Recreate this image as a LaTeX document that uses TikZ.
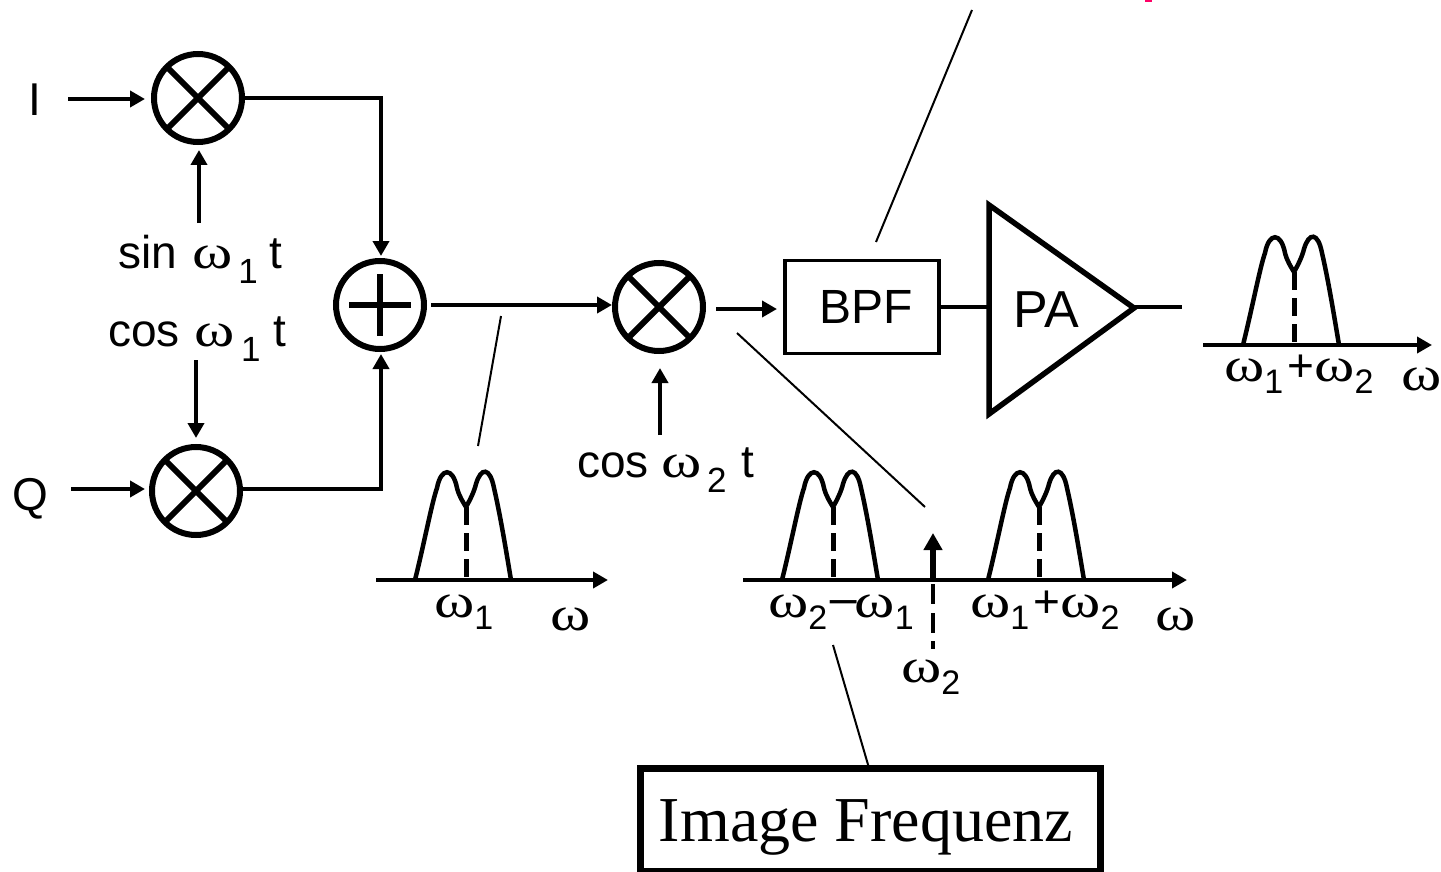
\documentclass[tikz,border=0pt]{standalone}
\usepackage{fontspec}
\usepackage{graphicx}
\setmainfont{Liberation Sans}
\newfontfamily\serifface{Liberation Serif}
\usetikzlibrary{arrows.meta}
\newcommand{\om}{\scalebox{1.33}[1.05]{\serifface ω}}
\newcommand{\subs}[1]{\raisebox{-15pt}{\fontsize{35}{35}\selectfont #1}}
\newcommand{\fsub}[1]{\raisebox{-12pt}{\fontsize{34}{34}\selectfont #1}}
\newcommand{\hs}[1]{\hspace{#1pt}}
\newcommand{\spectrum}[4]{% dx, dy, name, unused
  \begin{scope}[shift={(#1,#2)}]
    \draw[spec] (0,0) .. controls (9,-36) and (17,-78) .. (22,-92)
      .. controls (26,-113) and (38,-113) .. (42,-92)
      .. controls (44,-84) and (48,-78) .. (51,-73)
      .. controls (55,-80) and (59,-88) .. (61,-96)
      .. controls (66,-113) and (75,-113) .. (79,-92)
      .. controls (85,-66) and (90,-36) .. (96,0);
    \draw[specdash] (51,-73) -- (51,0);
  \end{scope}}
\tikzset{
  x=1pt,y=-1pt,
  wire/.style={line width=4.5pt,draw=black},
  awire/.style={wire,-{Triangle[length=15pt,width=16pt]}},
  thin leader/.style={line width=2pt,draw=black},
  spec/.style={line width=4.5pt,draw=black,line cap=butt},
  specdash/.style={line width=5pt,draw=black,dash pattern=on 18pt off 8pt},
  lab/.style={inner sep=0pt,anchor=base west,font=\fontsize{46}{46}\selectfont},
  mixer/.style={circle,draw=black,line width=6pt,minimum size=88pt,inner sep=0pt,
    path picture={
      \draw[line width=6pt] (path picture bounding box.north west) -- (path picture bounding box.south east);
      \draw[line width=6pt] (path picture bounding box.north east) -- (path picture bounding box.south west);}},
  adder/.style={circle,draw=black,line width=6pt,minimum size=88pt,inner sep=0pt},
}
\begin{document}
\begin{tikzpicture}
\useasboundingbox (0,0) rectangle (1441,872);
\fill[white] (0,0) rectangle (1441,872);
\fill[fill={rgb,255:red,255;green,0;blue,102}] (1145,0) rectangle (1152,2);

\node[mixer] (m1) at (198,98) {};
\node[mixer] (m2) at (196,491) {};
\node[adder] (sum) at (380,305) {};
\draw[line width=6pt] (349,305) -- (411,305) (380,274) -- (380,336);
\node[mixer] (m3) at (659,307) {};

\node[draw=black,line width=3.5pt,minimum width=154pt,minimum height=93pt,inner sep=0pt,font=\fontsize{48}{48}\selectfont] (bpf) at (862,307) {\hspace{8pt}BPF};
\coordinate (pa1) at (989,205);
\coordinate (pa2) at (1134,308);
\coordinate (pa3) at (989,414);
\draw[line width=5.5pt,line join=miter] (pa1) -- (pa2) -- (pa3) -- cycle;
\node[inner sep=0pt,font=\fontsize{52}{52}\selectfont] (pa) at (1046,310) {PA};

\node[lab,anchor=base] (ilab) at (35,116) {I};
\node[lab,anchor=base] (qlab) at (30,510) {Q};
\node[lab] (sin) at (118,268) {sin\hs{15}\om\hs{6}\subs{1}\hs{12}t};
\node[lab] (cos) at (108,346) {cos\hs{15}\om\hs{6}\subs{1}\hs{13}t};
\node[lab] (cos2) at (577,477) {cos\hs{13}\om\hs{5}\subs{2}\hs{15}t};

\coordinate (iin) at (68,99);
\coordinate (qin) at (71,489);
\coordinate (sinst) at (199,223);
\coordinate (sinend) at (199,150);
\coordinate (cosst) at (196,360);
\coordinate (cosend) at (196,438);
\coordinate (c1) at (381,98);
\coordinate (c2) at (381,489);
\coordinate (o3) at (716,309);
\coordinate (i3) at (777,309);
\coordinate (i1) at (145,99);
\coordinate (i2) at (145,489);
\coordinate (s1) at (381,256);
\coordinate (s2) at (381,354);
\coordinate (o0) at (431,305);
\coordinate (i0) at (612,305);
\coordinate (m1o) at (244,98);
\coordinate (m2o) at (243,489);
\coordinate (c3st) at (660,435);
\coordinate (c3end) at (660,368);
\coordinate (paout) at (1182,307);

\draw[awire] (iin) -- (i1);
\draw[awire] (qin) -- (i2);
\draw[awire] (sinst) -- (sinend);
\draw[awire] (cosst) -- (cosend);
\draw[awire] (m1o) -- (c1) -- (s1);
\draw[awire] (m2o) -- (c2) -- (s2);
\draw[awire] (o0) -- (i0);
\draw[awire] (o3) -- (i3);
\draw[awire] (c3st) -- (c3end);
\draw[wire] (bpf.east) -- (pa1 |- bpf.east);
\draw[wire] (pa2 |- paout) -- (paout);

% leaders
\coordinate (l1a) at (501,316); \coordinate (l1b) at (478,446);
\coordinate (l2a) at (737,333); \coordinate (l2b) at (925,507);
\coordinate (l3a) at (833,645); \coordinate (l3b) at (869,768);
\coordinate (l4a) at (972,10);  \coordinate (l4b) at (876,242);
\draw[thin leader] (l1a) -- (l1b);
\draw[thin leader] (l2a) -- (l2b);
\draw[thin leader] (l3a) -- (l3b);
\draw[thin leader] (l4a) -- (l4b);

% spectra
\coordinate (a1l) at (376,580); \coordinate (a1r) at (608,580);
\coordinate (a2l) at (743,580); \coordinate (a2r) at (1187,580);
\coordinate (a3l) at (1203,345); \coordinate (a3r) at (1432,345);
\draw[awire] (a1l) -- (a1r);
\draw[awire] (a2l) -- (a2r);
\draw[awire] (a3l) -- (a3r);
\spectrum{415}{580}{}{}
\spectrum{782}{580}{}{}
\spectrum{988}{580}{}{}
\spectrum{1243}{345}{}{}

\coordinate (lo) at (933,580);
\coordinate (lotop) at (933,533);
\coordinate (lodash) at (933,651);
\draw[line width=6pt,-{Triangle[length=17pt,width=18pt]}] (lo) -- (lotop);
\draw[line width=4.5pt,dash pattern=on 20pt off 9pt on 20pt off 8pt on 8pt off 10pt] (lo) ++(0,4) -- (lodash);

\node[lab] (w1) at (434,617) {\om\fsub{1}};
\node[lab] (w) at (550,630) {\om};
\node[lab] (w2m) at (768,617) {\om\fsub{2}\scalebox{1.2}[1]{−}\hs{-5}\om\fsub{1}};
\node[lab] (w12) at (970,617) {\om\fsub{1}\hs{4}+\om\fsub{2}};
\node[lab] (wb) at (1155,630) {\om};
\node[lab] (w22) at (901,682) {\om\fsub{2}};
\node[lab] (w3) at (1224,381) {\om\fsub{1}\hs{4}+\om\fsub{2}};
\node[lab] (wc) at (1401,390) {\om};

\node[draw=black,line width=7pt,minimum width=460pt,minimum height=103pt,inner sep=0pt] (img) at (870.5,820) {};
\node[inner sep=0pt,anchor=base,font=\serifface\fontsize{64}{64}\selectfont] (imgtext) at (866,841) {Image Frequenz};
\end{tikzpicture}
\end{document}
